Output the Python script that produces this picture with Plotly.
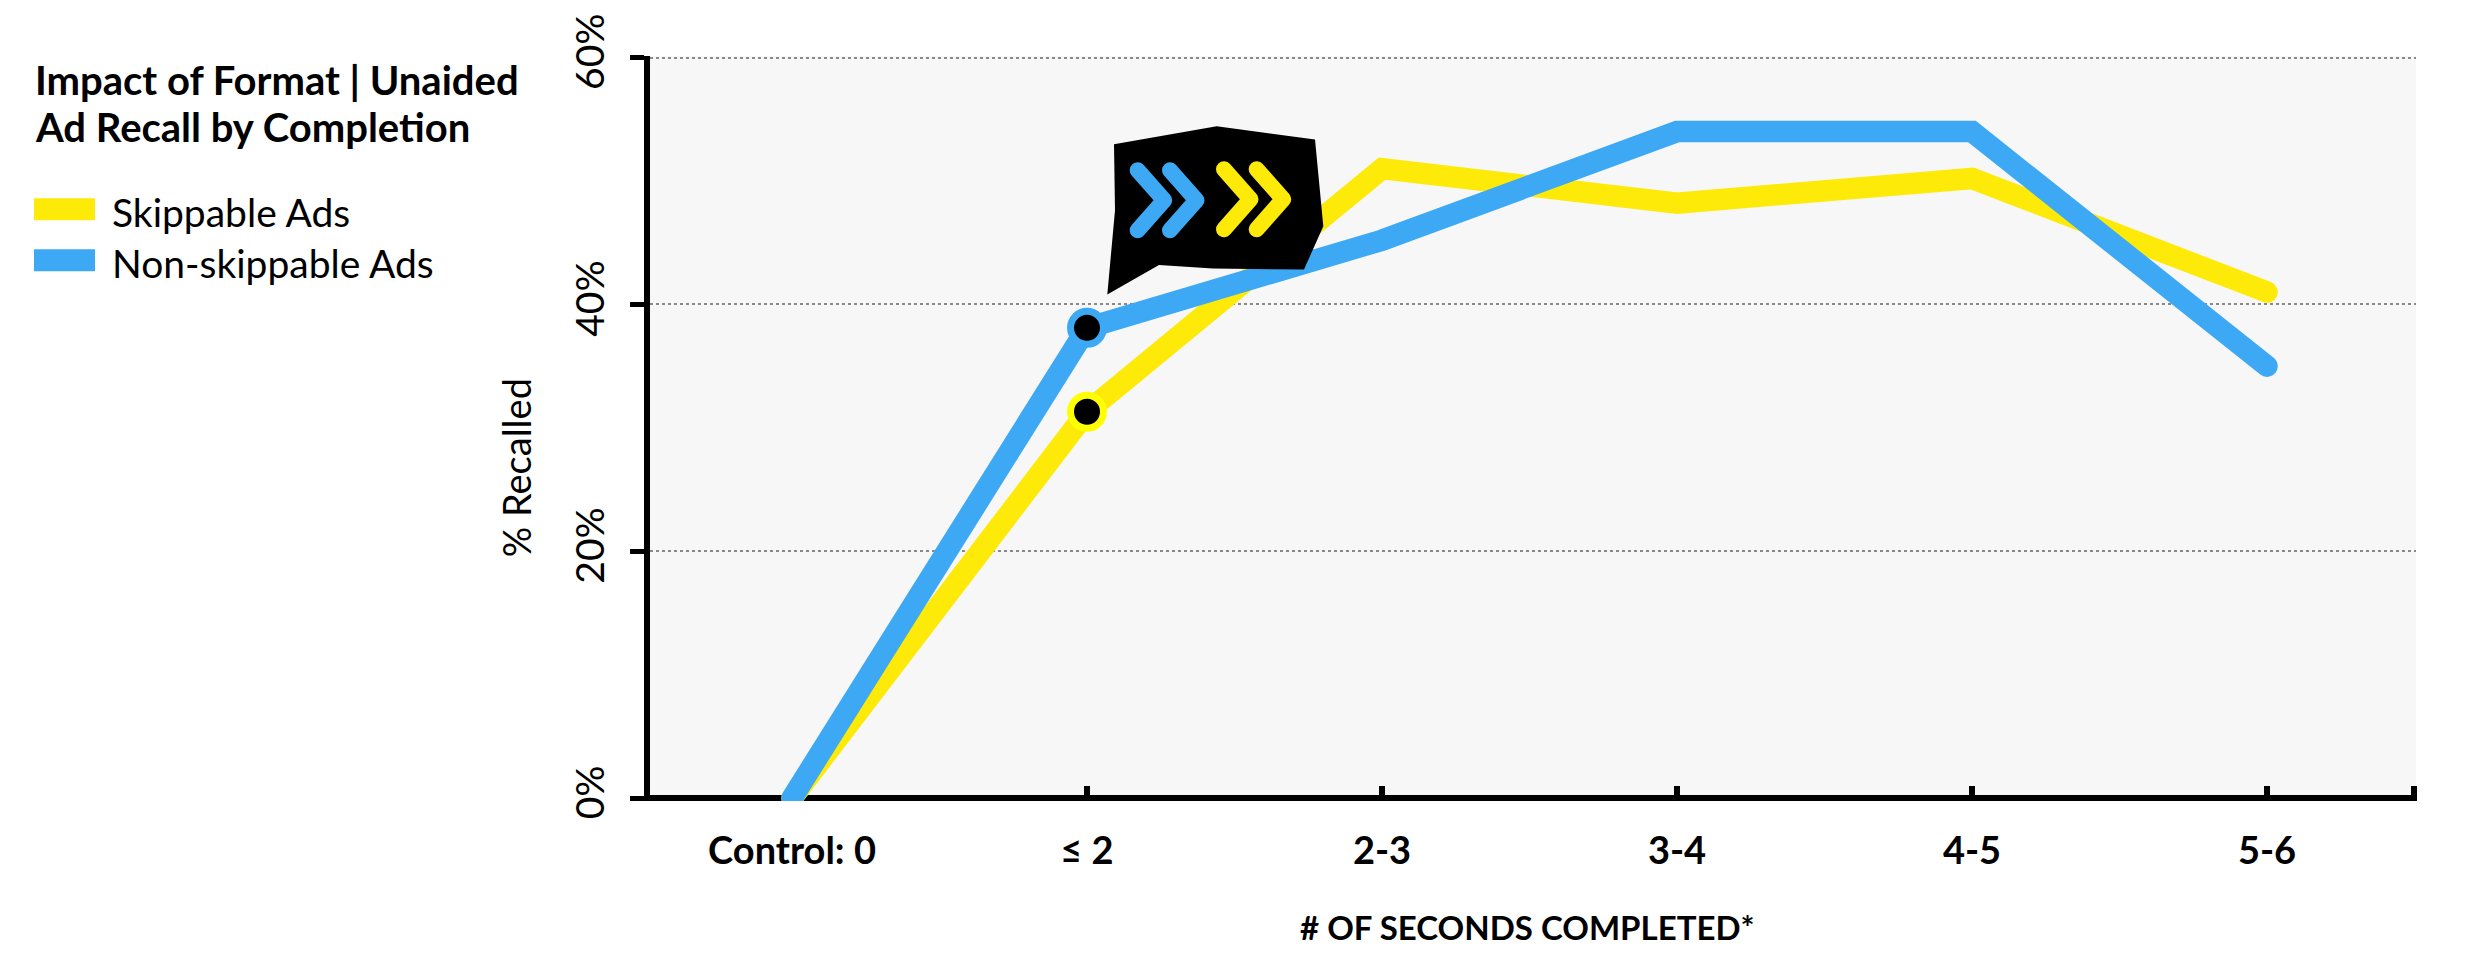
import plotly.graph_objects as go

CATEGORIES = ["Control: 0", "≤ 2", "2-3", "3-4", "4-5", "5-6"]
SKIPPABLE = [0, 31.3, 51, 48.2, 50.2, 41]
NON_SKIPPABLE = [0, 38.1, 45.2, 54, 54, 35]
HIGHLIGHT_INDEX = 1
Y_TICKS = [0, 20, 40, 60]
Y_LABELS = ["0%", "20%", "40%", "60%"]
SERIES_NAMES = ["Skippable Ads", "Non-skippable Ads"]
TITLE_LINES = ["Impact of Format | Unaided", "Ad Recall by Completion"]

YELLOW = "#FDEA08"
BLUE = "#3DA9F5"
FONT = "Lato"
W, H = 2474, 968
L, R, T, B = 650, 2416, 55.8, 800.8
PX_PER_PCT = 12.345
X0, STEP = 792, 295
BAND_END_PX = 2414


def px(x):
    return (x - L) / (R - L)


def py(y):
    return (B - y) / (B - T)


def poly(pts):
    return "M" + " L".join(f"{px(x):.5f},{py(y):.5f}" for x, y in pts)


fig = go.Figure()
x_idx = list(range(len(CATEGORIES)))
for name, vals, col in [(SERIES_NAMES[0], SKIPPABLE, YELLOW), (SERIES_NAMES[1], NON_SKIPPABLE, BLUE)]:
    fig.add_trace(go.Scatter(x=x_idx, y=vals, mode="lines", name=name,
                             line=dict(color=col, width=21.5), showlegend=False))
for name, vals, col in [(SERIES_NAMES[0], SKIPPABLE, "#FFFF00"), (SERIES_NAMES[1], NON_SKIPPABLE, BLUE)]:
    fig.add_trace(go.Scatter(x=[HIGHLIGHT_INDEX], y=[vals[HIGHLIGHT_INDEX]], mode="markers", name=name,
                             marker=dict(color="#000000", size=33, line=dict(color=col, width=7)),
                             showlegend=False))

shapes = []
# callout icon
callout = [(1114, 144), (1216.7, 126), (1315, 139.3), (1323.3, 226), (1304, 269.3),
           (1213, 268.3), (1159, 264.7), (1107.3, 294.3), (1115, 210)]
shapes.append(dict(type="path", xref="paper", yref="paper", path=poly(callout) + " Z",
                   fillcolor="#000000", line=dict(width=0), layer="above"))
for x0, yc, col in [(1137.7, 200, BLUE), (1170, 200, BLUE), (1224, 199, YELLOW), (1256.7, 199, YELLOW)]:
    pts = [(x0, yc - 30), (x0 + 26.5, yc), (x0, yc + 30)]
    shapes.append(dict(type="path", xref="paper", yref="paper", path=poly(pts),
                       line=dict(color=col, width=16), layer="above"))
# legend swatches
for y0, col in [(198, YELLOW), (249, BLUE)]:
    shapes.append(dict(type="rect", xref="paper", yref="paper", x0=px(34), x1=px(95),
                       y0=py(y0), y1=py(y0 + 22), fillcolor=col, line=dict(width=0)))

ann = [
    dict(text=f"<b>{TITLE_LINES[0]}</b>", x=px(33), y=py(80), xanchor="left", yanchor="middle",
         font=dict(size=40, family=FONT, color="#000000")),
    dict(text=f"<b>{TITLE_LINES[1]}</b>", x=px(33), y=py(127), xanchor="left", yanchor="middle",
         font=dict(size=40, family=FONT, color="#000000")),
    dict(text=SERIES_NAMES[0], x=px(110), y=py(212), xanchor="left", yanchor="middle",
         font=dict(size=39, family=FONT, color="#000000")),
    dict(text=SERIES_NAMES[1], x=px(110), y=py(263), xanchor="left", yanchor="middle",
         font=dict(size=39, family=FONT, color="#000000")),
    dict(text="% Recalled", x=px(516), y=py(468), textangle=-90, xanchor="center", yanchor="middle",
         font=dict(size=38, family=FONT, color="#000000")),
    dict(text="<b># OF SECONDS COMPLETED*</b>", x=px(1527), y=py(927), xanchor="center", yanchor="middle",
         font=dict(size=33, family=FONT, color="#000000")),
]
for a in ann:
    a.update(xref="paper", yref="paper", showarrow=False)

x_end_tick = (BAND_END_PX - X0) / STEP
fig.update_layout(
    width=W, height=H, autosize=False,
    margin=dict(l=L, r=W - R, t=T, b=H - B, pad=0),
    paper_bgcolor="#FFFFFF", plot_bgcolor="#F7F7F7",
    showlegend=False, shapes=shapes, annotations=ann,
    xaxis=dict(range=[(L - X0) / STEP, (R - X0) / STEP], tickmode="array", tickvals=x_idx + [x_end_tick],
               ticktext=[f"<b>{c}</b>" for c in CATEGORIES] + [""],
               ticks="inside", ticklen=15, tickwidth=6, tickcolor="#000000",
               ticklabelstandoff=24, layer="below traces",
               showgrid=False, zeroline=False, showline=False, automargin=False,
               tickfont=dict(size=38, family=FONT, color="#000000")),
    yaxis=dict(range=[-2.8 / PX_PER_PCT, 60 + 1.5 / PX_PER_PCT], tickmode="array", tickvals=Y_TICKS, ticktext=Y_LABELS,
               ticks="outside", ticklen=14, tickwidth=5, tickcolor="#000000", tickangle=-90,
               ticklabelstandoff=11, layer="below traces",
               showline=True, linecolor="#000000", linewidth=5.6,
               zeroline=True, zerolinecolor="#000000", zerolinewidth=5.6,
               showgrid=True, gridcolor="#888888", gridwidth=2, griddash="3px,3px", automargin=False,
               tickfont=dict(size=39, family=FONT, color="#000000")),
)
css = ("document.body.style.margin='0';"
       "var s=document.createElement('style');"
       "s.textContent='.js-line{stroke-linecap:round!important}"
       ".shapelayer path[style*=\"16px\"]{stroke-linecap:round!important;stroke-linejoin:round!important}';"
       "document.head.appendChild(s);")
fig.write_html("out.html", post_script=css, config={"displayModeBar": False})
